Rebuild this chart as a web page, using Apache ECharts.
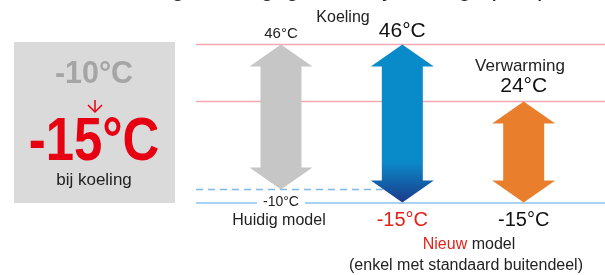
<!DOCTYPE html>
<html>
<head>
<meta charset="utf-8">
<script src="https://cdn.jsdelivr.net/npm/echarts@6/dist/echarts.min.js"></script>
<style>
  html, body { margin: 0; padding: 0; background: #fff; }
  #chart { width: 605px; height: 275px; }
</style>
</head>
<body>
<div id="chart"></div>
<script>
  // data
  const models = ['Huidig model', 'Nieuw model', 'Nieuw model'];
  const modes = ['Koeling', 'Koeling', 'Verwarming'];
  const highTemps = [46, 46, 24];
  const lowTemps = [-10, -15, -15];
  const refLines = [46, 24];   // pink guide lines
  const newMin = -15;          // solid blue line
  const oldMin = -10;          // dashed blue line (old limit)

  const FONT = '"Liberation Sans", Arial, sans-serif';
  const fmt = (v) => v + '°C';

  // per-arrow styling
  const arrowFill = [
    '#c6c6c6',
    {
      type: 'linear', x: 0, y: 0, x2: 0, y2: 1,
      colorStops: [
        { offset: 0, color: '#0a8bc9' },
        { offset: 0.74, color: '#0a8bc9' },
        { offset: 1, color: '#1c3a8a' },
      ],
    },
    '#e97f2c',
  ];
  const topLabel = [
    { size: 15, color: '#222', dy: -3 },
    { size: 21, color: '#111', dy: -3 },
    { size: 21, color: '#111', dy: -5 },
  ];
  const bottomLabel = [
    { size: 14, color: '#222', dy: 0, bg: '#fff' },
    { size: 20, color: '#e2231a', dy: 18 },
    { size: 20, color: '#111', dy: 18 },
  ];

  const arrowData = highTemps.map((h, i) => [i, h, lowTemps[i]]);

  const chart = echarts.init(document.getElementById('chart'));

  const option = {
    animation: false,
    grid: { left: 196, right: 0, top: 44.5, bottom: 72.5 },
    xAxis: { type: 'value', min: -0.7, max: 2.67, show: false },
    yAxis: { type: 'value', min: newMin, max: Math.max(...highTemps), show: false },
    graphic: [
      // heading cut off at top of the crop
      {
        type: 'text', x: 70, y: 1,
        style: { text: 'Uitbreiding werkingsgebied bij koeling op kapasiteit', font: '24px ' + FONT, fill: '#222', verticalAlign: 'bottom' },
      },
      {
        type: 'text', x: 343, y: 18,
        style: { text: modes[0], font: '16px ' + FONT, fill: '#222', align: 'center', verticalAlign: 'middle' },
      },
      {
        type: 'text', x: 520, y: 66,
        style: { text: modes[2], font: '17px ' + FONT, fill: '#222', align: 'center', verticalAlign: 'middle' },
      },
      // left info box
      {
        type: 'rect', shape: { x: 14, y: 42, width: 161, height: 161 },
        style: { fill: '#dadada' },
      },
      {
        type: 'text', x: 94, y: 74, scaleX: 0.95,
        style: { text: fmt(oldMin), font: 'bold 32px ' + FONT, fill: '#a5a5a5', align: 'center', verticalAlign: 'middle' },
      },
      {
        type: 'polyline', shape: { points: [[95, 100], [95, 112]] },
        style: { stroke: '#e60012', lineWidth: 1.5 },
      },
      {
        type: 'polyline', shape: { points: [[88, 105], [95, 112], [102, 105]] },
        style: { stroke: '#e60012', lineWidth: 1.5, fill: null },
      },
      {
        type: 'text', x: 94, y: 143, scaleX: 0.82,
        style: { text: fmt(newMin), font: 'bold 62px ' + FONT, fill: '#e60012', align: 'center', verticalAlign: 'middle' },
      },
      {
        type: 'text', x: 94, y: 180,
        style: { text: 'bij koeling', font: '17px ' + FONT, fill: '#222', align: 'center', verticalAlign: 'middle' },
      },
      // model captions
      {
        type: 'text', x: 279, y: 221,
        style: { text: models[0], font: '16px ' + FONT, fill: '#222', align: 'center', verticalAlign: 'middle' },
      },
      {
        type: 'text', x: 469, y: 245,
        style: {
          text: '{r|Nieuw} ' + models[1].split(' ')[1],
          font: '16px ' + FONT, fill: '#222', align: 'center', verticalAlign: 'middle',
          rich: { r: { fill: '#e2231a', font: '16px ' + FONT } },
        },
      },
      {
        type: 'text', x: 466, y: 266,
        style: { text: '(enkel met standaard buitendeel)', font: '16px ' + FONT, fill: '#222', align: 'center', verticalAlign: 'middle' },
      },
    ],
    series: [
      {
        type: 'line',
        data: [],
        z: 1,
        markLine: {
          z: 1,
          symbol: 'none',
          silent: true,
          label: { show: false },
          data: [
            ...refLines.map((v) => ({ yAxis: v, lineStyle: { color: '#f4a7b0', width: 1.3, type: 'solid' } })),
            { yAxis: newMin, lineStyle: { color: '#8dc2ec', width: 1.6, type: 'solid' } },
            [
              { coord: [-0.7, oldMin], lineStyle: { color: '#7db8ea', width: 1.3, type: [7, 5] } },
              { coord: [1, oldMin] },
            ],
          ],
        },
      },
      {
        type: 'custom',
        z: 10,
        data: arrowData,
        renderItem: function (params, api) {
          const i = params.dataIndex;
          const top = api.coord([api.value(0), api.value(1)]);
          const bot = api.coord([api.value(0), api.value(2)]);
          const base = api.coord([api.value(0), newMin]);
          const x = top[0], y1 = top[1], y2 = bot[1];
          const hw = 31.5, sw = 20.5, hh = 22;
          const pts = [
            [x, y1], [x + hw, y1 + hh], [x + sw, y1 + hh], [x + sw, y2 - hh], [x + hw, y2 - hh],
            [x, y2], [x - hw, y2 - hh], [x - sw, y2 - hh], [x - sw, y1 + hh], [x - hw, y1 + hh],
          ];
          const tl = topLabel[i], bl = bottomLabel[i];
          return {
            type: 'group',
            children: [
              { type: 'polygon', shape: { points: pts }, style: { fill: arrowFill[i] } },
              {
                type: 'text', x: x, y: y1 + tl.dy,
                style: { text: fmt(api.value(1)), font: tl.size + 'px ' + FONT, fill: tl.color, align: 'center', verticalAlign: 'bottom' },
              },
              {
                type: 'text', x: x, y: base[1] + bl.dy,
                style: {
                  text: fmt(api.value(2)), font: bl.size + 'px ' + FONT, fill: bl.color,
                  align: 'center', verticalAlign: 'middle',
                  backgroundColor: bl.bg || 'transparent', padding: bl.bg ? [0, 6] : 0,
                },
              },
            ],
          };
        },
      },
    ],
  };

  chart.setOption(option);
</script>
</body>
</html>
